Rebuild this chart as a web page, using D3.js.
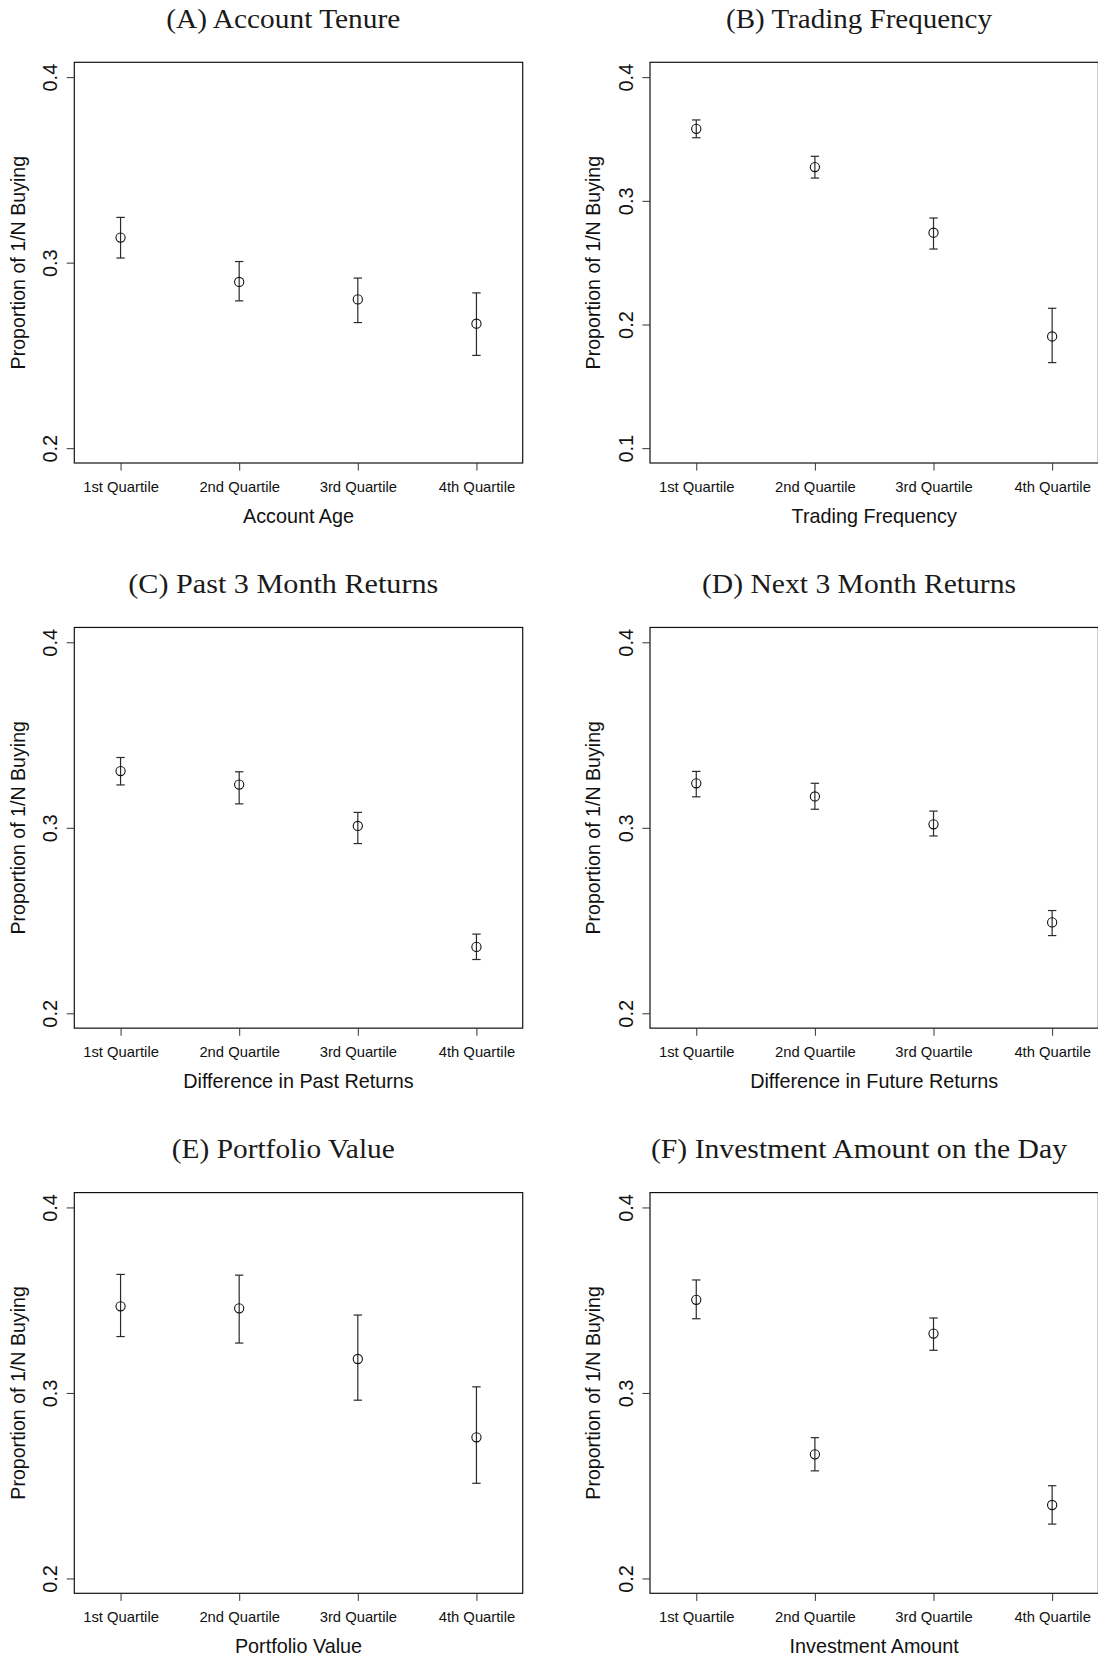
<!DOCTYPE html>
<html><head><meta charset="utf-8">
<script src="https://cdn.jsdelivr.net/npm/d3@7"></script>
<style>body{margin:0;background:#fff}svg{display:block}</style>
</head><body>
<script>
// ---------- DATA ----------
const quartiles = ["1st Quartile", "2nd Quartile", "3rd Quartile", "4th Quartile"];
const panelTitles = ["(A) Account Tenure", "(B) Trading Frequency", "(C) Past 3 Month Returns",
                     "(D) Next 3 Month Returns", "(E) Portfolio Value", "(F) Investment Amount on the Day"];
const xAxisLabels = ["Account Age", "Trading Frequency", "Difference in Past Returns",
                     "Difference in Future Returns", "Portfolio Value", "Investment Amount"];
const yAxisLabel = "Proportion of 1/N Buying";
const yTicksStd = [0.2, 0.3, 0.4];
const yTicksWide = [0.1, 0.2, 0.3, 0.4];

const meanA = [0.3135, 0.2896, 0.2802, 0.2671];
const lowA  = [0.3025, 0.2794, 0.2677, 0.2500];
const highA = [0.3244, 0.3006, 0.2917, 0.2837];

const meanB = [0.3582, 0.3273, 0.2742, 0.1903];
const lowB  = [0.3510, 0.3184, 0.2610, 0.1692];
const highB = [0.3654, 0.3360, 0.2861, 0.2131];

const meanC = [0.3306, 0.3233, 0.3010, 0.2358];
const lowC  = [0.3231, 0.3129, 0.2915, 0.2290];
const highC = [0.3379, 0.3302, 0.3083, 0.2427];

const meanD = [0.3240, 0.3169, 0.3019, 0.2490];
const lowD  = [0.3167, 0.3100, 0.2956, 0.2419];
const highD = [0.3304, 0.3240, 0.3090, 0.2554];

const meanE = [0.3467, 0.3456, 0.3183, 0.2761];
const lowE  = [0.3304, 0.3269, 0.2961, 0.2513];
const highE = [0.3639, 0.3635, 0.3420, 0.3033];

const meanF = [0.3502, 0.2669, 0.3320, 0.2396];
const lowF  = [0.3400, 0.2580, 0.3230, 0.2293];
const highF = [0.3609, 0.2759, 0.3404, 0.2500];

// ---------- LAYOUT ----------
const W = 1098, H = 1659;
const colOff = 575.7, rowOff = 565.15;
const box = {left: 74.3, right: 522.7, top: 62.3, bottom: 463};
const titleWidths = [234, 266, 310, 314, 223, 416];

const panels = [
  {title: panelTitles[0], xlab: xAxisLabels[0], ticks: yTicksStd,  mean: meanA, low: lowA, high: highA},
  {title: panelTitles[1], xlab: xAxisLabels[1], ticks: yTicksWide, mean: meanB, low: lowB, high: highB},
  {title: panelTitles[2], xlab: xAxisLabels[2], ticks: yTicksStd,  mean: meanC, low: lowC, high: highC},
  {title: panelTitles[3], xlab: xAxisLabels[3], ticks: yTicksStd,  mean: meanD, low: lowD, high: highD},
  {title: panelTitles[4], xlab: xAxisLabels[4], ticks: yTicksStd,  mean: meanE, low: lowE, high: highE},
  {title: panelTitles[5], xlab: xAxisLabels[5], ticks: yTicksStd,  mean: meanF, low: lowF, high: highF},
];

const svg = d3.select("body").append("svg").attr("width", W).attr("height", H)
  .style("font-family", "'Liberation Sans', Arial, Helvetica, sans-serif");

panels.forEach((p, i) => {
  const col = i % 2, row = Math.floor(i / 2);
  const g = svg.append("g").attr("transform", `translate(${col * colOff},${row * rowOff})`);

  const yMin = d3.min(p.ticks), yMax = d3.max(p.ticks);
  const ext = (yMax - yMin) * 0.04;
  const y = d3.scaleLinear().domain([yMin - ext, yMax + ext]).range([box.bottom, box.top]);
  const xl = d3.scaleLinear().domain([0.61, 4.39]).range([box.left, box.right]);
  const xpos = q => xl(1 + quartiles.indexOf(q));

  // title
  g.append("text").attr("x", 283.3).attr("y", 28)
    .attr("text-anchor", "middle")
    .attr("textLength", titleWidths[i]).attr("lengthAdjust", "spacingAndGlyphs")
    .style("font-family", "'Liberation Serif', 'DejaVu Serif', serif")
    .style("font-size", "27px").attr("fill", "#1a1a1a").text(p.title);

  // box
  g.append("rect").attr("x", box.left).attr("y", box.top)
    .attr("width", box.right - box.left).attr("height", box.bottom - box.top)
    .attr("fill", "none").attr("stroke", "#111").attr("stroke-width", 1.2);

  // y axis
  const yAxis = d3.axisLeft(y).tickValues(p.ticks).tickSize(7.6).tickFormat(d3.format(".1f"));
  const ya = g.append("g").attr("transform", `translate(${box.left},0)`).call(yAxis);
  ya.select(".domain").remove();
  ya.selectAll(".tick line").attr("stroke", "#333").attr("stroke-width", 1);
  ya.selectAll(".tick text").attr("x", null).attr("dy", null)
    .attr("transform", "translate(-17.4,0) rotate(-90)")
    .attr("text-anchor", "middle").attr("y", 0)
    .style("font-size", "20px").attr("fill", "#111");

  // x axis
  const xAxis = d3.axisBottom(d3.scaleOrdinal().domain(quartiles).range(quartiles.map(q => xpos(q))))
    .tickSize(7.6);
  const xa = g.append("g").attr("transform", `translate(0,${box.bottom})`).call(xAxis);
  xa.select(".domain").remove();
  xa.selectAll(".tick line").attr("stroke", "#333").attr("stroke-width", 1);
  xa.selectAll(".tick text").attr("y", 28.5).attr("dy", null)
    .style("font-size", "14.8px").attr("fill", "#111");

  // axis labels
  g.append("text").attr("x", (box.left + box.right) / 2).attr("y", 523)
    .attr("text-anchor", "middle").style("font-size", "19.8px").attr("fill", "#111").text(p.xlab);
  g.append("text").attr("transform", `translate(24.5,${(box.top + box.bottom) / 2}) rotate(-90)`)
    .attr("text-anchor", "middle").style("font-size", "19.6px").attr("fill", "#111").text(yAxisLabel);

  // error bars
  const data = quartiles.map((q, k) => ({q, m: p.mean[k], lo: p.low[k], hi: p.high[k]}));
  const eb = g.append("g").attr("stroke", "#2a2a2a").attr("stroke-width", 1.2).attr("fill", "none");
  data.forEach(d => {
    const cx = xpos(d.q);
    eb.append("line").attr("x1", cx).attr("x2", cx).attr("y1", y(d.lo)).attr("y2", y(d.hi));
    eb.append("line").attr("x1", cx - 4.2).attr("x2", cx + 4.2).attr("y1", y(d.lo)).attr("y2", y(d.lo));
    eb.append("line").attr("x1", cx - 4.2).attr("x2", cx + 4.2).attr("y1", y(d.hi)).attr("y2", y(d.hi));
  });
  g.append("g").selectAll("circle").data(data).join("circle")
    .attr("cx", d => xpos(d.q)).attr("cy", d => y(d.m)).attr("r", 4.6)
    .attr("fill", "none").attr("stroke", "#111").attr("stroke-width", 1.1);
});
</script>
</body></html>
